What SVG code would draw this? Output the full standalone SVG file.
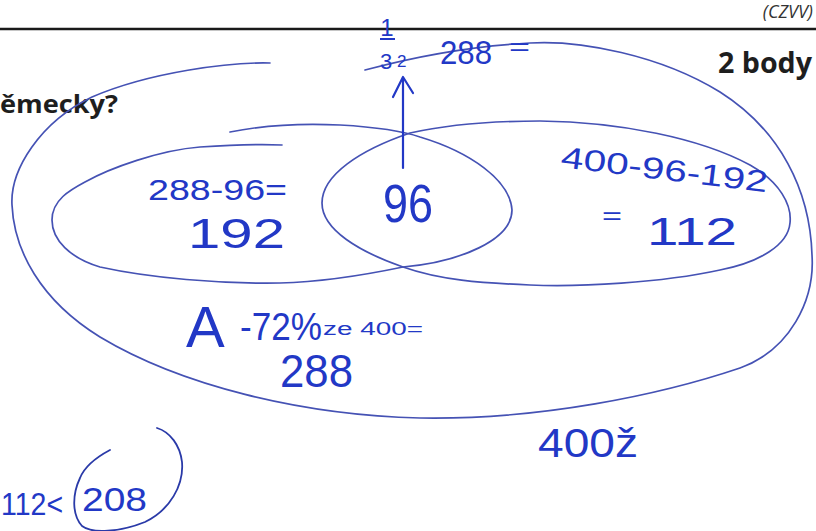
<svg xmlns="http://www.w3.org/2000/svg" width="816" height="531" viewBox="0 0 816 531">
<defs>
<style>
.set{fill:none;stroke:#4552b4;stroke-width:1.7;stroke-linecap:round;stroke-linejoin:round}
.hw{fill:#2238c6;font-family:"Liberation Sans","DejaVu Sans",sans-serif}
.pr{fill:#1e1e1e;font-family:"Open Sans","Liberation Sans",sans-serif;font-weight:bold}
.pen{fill:none;stroke:#2238c6;stroke-width:2.2;stroke-linecap:round;stroke-linejoin:round}
</style>
</defs>
<rect width="816" height="531" fill="#ffffff"/>
<g id="header">
<text x="813" y="18" text-anchor="end" font-family="Open Sans, Liberation Sans, sans-serif" font-style="italic" font-size="18" fill="#333">(CZVV)</text>
<line x1="0" y1="29" x2="816" y2="29" stroke="#1a1a1a" stroke-width="2.5"/>
<text class="pr" x="718" y="73" font-size="28" textLength="94" lengthAdjust="spacingAndGlyphs">2 body</text>
<text class="pr" x="0" y="113" font-size="25" textLength="118" lengthAdjust="spacingAndGlyphs">ěmecky?</text>
</g>
<g id="outer-set">
<path class="set" d="M270,63 C230,62 150,72 92,97 C40,122 10,170 12,205 C14,250 40,300 100,337 C180,385 300,415 420,418 C540,420 660,395 740,368 C790,350 815,300 812,255 C810,190 780,130 720,92 C660,55 580,40 530,43 C470,46 410,58 365,70"/>
<text class="hw" x="538" y="457" font-size="40" textLength="100" lengthAdjust="spacingAndGlyphs">400ž</text>
</g>
<g id="set-left">
<path class="set" d="M230,132 C260,126 300,123 340,125 C375,127 400,130 420,137 C470,152 510,180 512,210 C512,240 460,262 403,267 C360,276 320,282 280,283 C220,284 150,278 100,267 C70,258 52,240 52,220 C52,200 70,190 85,182 C110,168 160,150 200,147 C230,145 260,144 282,145"/>
<text class="hw" x="148" y="200" font-size="30" textLength="139" lengthAdjust="spacingAndGlyphs">288-96=</text>
<text class="hw" x="188" y="248" font-size="42" textLength="97" lengthAdjust="spacingAndGlyphs">192</text>
</g>
<g id="set-right">
<path class="set" d="M410,133 C450,124 500,121 540,121 C620,122 700,138 750,165 C780,182 792,205 790,223 C788,245 760,262 720,270 C660,283 580,287 530,285 C480,283 440,280 403,267 C360,252 322,230 322,203 C322,175 360,150 410,133 Z"/>
<text class="hw" transform="translate(560,167) rotate(7)" font-size="30" textLength="208" lengthAdjust="spacingAndGlyphs">400-96-192</text>
<text class="hw" x="602" y="224" font-size="24" textLength="20" lengthAdjust="spacingAndGlyphs">=</text>
<text class="hw" x="647" y="245" font-size="38" textLength="90" lengthAdjust="spacingAndGlyphs">112</text>
</g>
<g id="intersection">
<text class="hw" x="383" y="222" font-size="54" textLength="50" lengthAdjust="spacingAndGlyphs">96</text>
</g>
<g id="result-top">
<text class="hw" x="387" y="36" font-size="24" text-anchor="middle">1</text>
<line x1="380" y1="39" x2="395" y2="39" stroke="#2238c6" stroke-width="2"/>
<text class="hw" x="386" y="69" font-size="22" text-anchor="middle">3</text>
<text class="hw" x="397" y="67" font-size="17">2</text>
<text class="hw" x="440" y="64" font-size="34" textLength="52" lengthAdjust="spacingAndGlyphs">288</text>
<text class="hw" x="509" y="55" font-size="24" textLength="21" lengthAdjust="spacingAndGlyphs">=</text>
</g>
<g id="note-a">
<text class="hw" x="186" y="347" font-size="58">A</text>
<text class="hw" x="240" y="340" font-size="38" textLength="82" lengthAdjust="spacingAndGlyphs">-72%</text>
<text class="hw" x="323" y="335" font-size="18" textLength="100" lengthAdjust="spacingAndGlyphs">ze 400=</text>
<text class="hw" x="280" y="387" font-size="46" textLength="73" lengthAdjust="spacingAndGlyphs">288</text>
</g>
<g id="note-bottom">
<text class="hw" x="1" y="515" font-size="32" textLength="62" lengthAdjust="spacingAndGlyphs">112&lt;</text>
<text class="hw" x="82" y="511" font-size="34" textLength="65" lengthAdjust="spacingAndGlyphs">208</text>
<path fill="none" stroke="#2a3aa8" stroke-width="1.8" stroke-linecap="round" d="M110,450 C95,458 84,468 80,478 C72,495 72,515 82,526 C92,534 120,532 145,522 C170,510 184,485 182,462 C180,445 170,432 157,428"/>
</g>
<g id="connectors">
<path class="pen" d="M403,168 L403,78"/>
<path class="pen" d="M393,97 L403,77 L413,93"/>
</g>
</svg>
